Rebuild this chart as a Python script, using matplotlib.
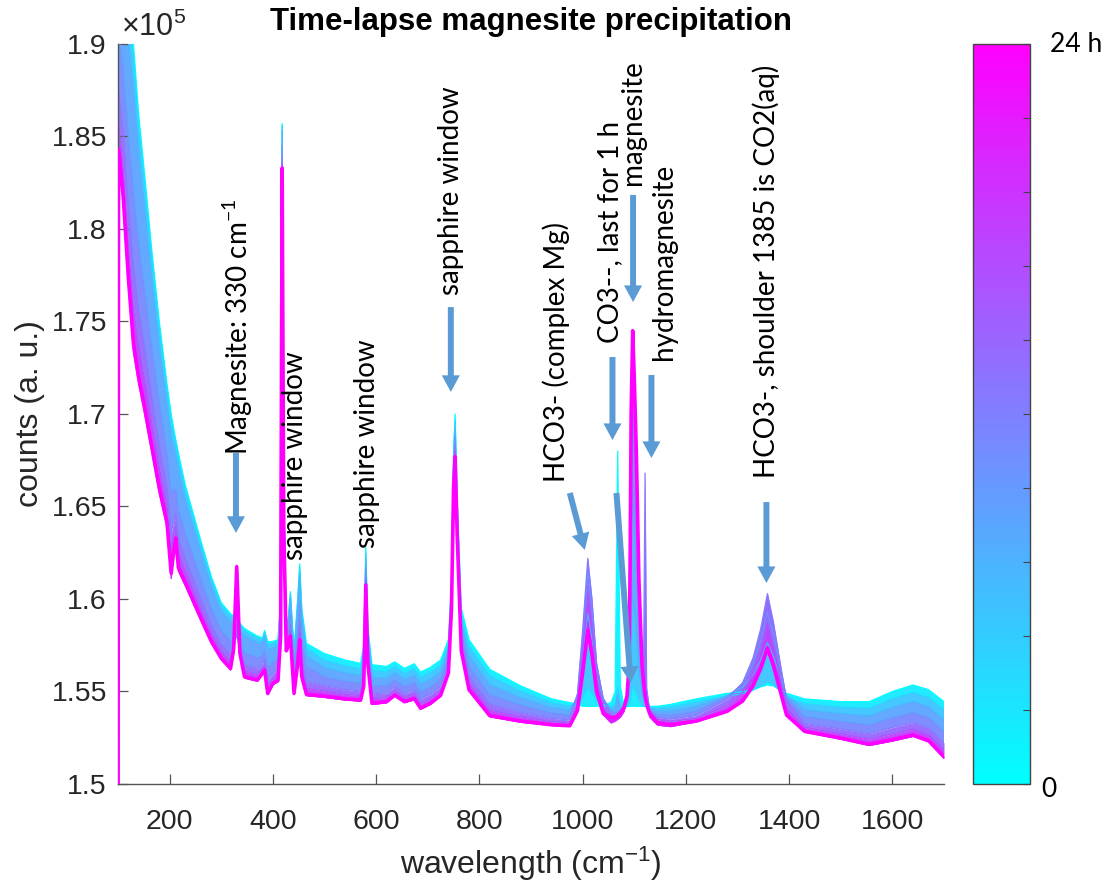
import numpy as np
import matplotlib
matplotlib.use("Agg")
import matplotlib.pyplot as plt
from matplotlib.ticker import FuncFormatter
from matplotlib.cm import ScalarMappable
from matplotlib.colors import Normalize

# ---------------- data (counts in units of 1e5) ----------------
wavenumber = [100, 101, 110, 120, 130, 140, 150, 165, 180, 195,
              203, 208, 212, 217, 230, 260, 281, 300, 318, 324,
              330, 336, 345, 370, 380, 384, 390, 400, 410, 415,
              418, 421, 426, 430, 434, 441, 448, 452, 456, 465,
              500, 540, 570, 576, 580, 584, 592, 620, 636, 655,
              674, 686, 705, 725, 740, 746, 750, 753, 757, 765,
              780, 820, 880, 940, 975, 990, 1000, 1010, 1018, 1027,
              1040, 1055, 1063, 1068, 1073, 1080, 1086, 1090, 1092, 1094,
              1097, 1100, 1104, 1109, 1115, 1118, 1121, 1124, 1130, 1145,
              1170, 1220, 1280, 1310, 1330, 1345, 1358, 1370, 1382, 1395,
              1430, 1500, 1555, 1600, 1640, 1670, 1700]

hours = [0, 4, 7, 10, 12.5, 16, 20, 24]

counts_00h = [1.40, 1.970, 1.950, 1.925, 1.900, 1.862, 1.834, 1.790, 1.750, 1.716,
              1.700, 1.692, 1.686, 1.679, 1.662, 1.632, 1.612, 1.598, 1.592, 1.591,
              1.5885, 1.587, 1.584, 1.580, 1.579, 1.583, 1.577, 1.577, 1.578, 1.600,
              1.857, 1.660, 1.585, 1.590, 1.604, 1.572, 1.600, 1.619, 1.595, 1.576,
              1.5705, 1.567, 1.5652, 1.575, 1.628, 1.585, 1.5645, 1.5635, 1.566, 1.5625,
              1.565, 1.5605, 1.563, 1.567, 1.578, 1.610, 1.680, 1.700, 1.655, 1.595,
              1.578, 1.562, 1.553, 1.546, 1.544, 1.543, 1.542, 1.542, 1.542, 1.542,
              1.5425, 1.544, 1.550, 1.680, 1.553, 1.542, 1.542, 1.542, 1.542, 1.542,
              1.542, 1.542, 1.542, 1.542, 1.542, 1.542, 1.542, 1.542, 1.542, 1.542,
              1.543, 1.546, 1.549, 1.550, 1.551, 1.5525, 1.5535, 1.553, 1.551, 1.549,
              1.546, 1.5445, 1.5445, 1.550, 1.5535, 1.551, 1.5445]

counts_04h = [1.40, 1.9637, 1.9434, 1.9175, 1.8919, 1.8549, 1.8276, 1.7847, 1.7455, 1.7123,
              1.6957, 1.6887, 1.6834, 1.6759, 1.6594, 1.6299, 1.6103, 1.5965, 1.5905, 1.5895,
              1.5871, 1.5857, 1.5827, 1.5788, 1.578, 1.5819, 1.5756, 1.5759, 1.5769, 1.599,
              1.8558, 1.659, 1.5844, 1.5893, 1.6028, 1.5709, 1.5983, 1.617, 1.5932, 1.5733,
              1.567, 1.5638, 1.5622, 1.5717, 1.6249, 1.582, 1.5614, 1.5606, 1.5633, 1.5598,
              1.5622, 1.5576, 1.5601, 1.5642, 1.5753, 1.6078, 1.677, 1.6966, 1.652, 1.5916,
              1.574, 1.5583, 1.5502, 1.5439, 1.5421, 1.5427, 1.547, 1.552, 1.5493, 1.5449,
              1.5423, 1.5413, 1.5431, 1.552, 1.5432, 1.5414, 1.5417, 1.5427, 1.5458, 1.5505,
              1.553, 1.5516, 1.5493, 1.5453, 1.5427, 1.5421, 1.5417, 1.5415, 1.5412, 1.541,
              1.5415, 1.5442, 1.5474, 1.5489, 1.5507, 1.553, 1.5552, 1.5536, 1.5504, 1.547,
              1.5434, 1.5415, 1.541, 1.5461, 1.5494, 1.5469, 1.540]

counts_07h = [1.40, 1.951, 1.930, 1.9023, 1.8757, 1.8407, 1.8148, 1.774, 1.7365, 1.7048,
              1.6871, 1.6821, 1.678, 1.6697, 1.654, 1.6257, 1.6068, 1.5935, 1.5876, 1.5866,
              1.5844, 1.583, 1.5801, 1.5764, 1.5762, 1.5798, 1.5728, 1.5736, 1.5747, 1.597,
              1.8534, 1.657, 1.583, 1.5878, 1.6004, 1.5686, 1.5948, 1.6128, 1.5894, 1.5694,
              1.5629, 1.5601, 1.5587, 1.5677, 1.6213, 1.5784, 1.5576, 1.5572, 1.5601, 1.5566,
              1.5588, 1.5541, 1.5566, 1.5607, 1.5721, 1.605, 1.6734, 1.6924, 1.6484, 1.5874,
              1.5691, 1.5538, 1.5467, 1.5414, 1.5399, 1.547, 1.5682, 1.592, 1.5788, 1.5576,
              1.5454, 1.5406, 1.5403, 1.5486, 1.5409, 1.5418, 1.5436, 1.5484, 1.564, 1.5874,
              1.600, 1.5928, 1.5814, 1.5616, 1.5484, 1.5457, 1.5436, 1.5424, 1.5409, 1.5395,
              1.5395, 1.542, 1.5478, 1.5524, 1.559, 1.5671, 1.5764, 1.5687, 1.5583, 1.5476,
              1.5402, 1.538, 1.5369, 1.5414, 1.5446, 1.5419, 1.5347]

counts_10h = [1.40, 1.9065, 1.884, 1.8495, 1.819, 1.791, 1.770, 1.7365, 1.705, 1.6785,
              1.657, 1.659, 1.6595, 1.648, 1.6355, 1.611, 1.5945, 1.583, 1.5772, 1.5772,
              1.5797, 1.5745, 1.571, 1.5681, 1.5695, 1.5723, 1.563, 1.5657, 1.567, 1.590,
              1.845, 1.650, 1.5785, 1.5825, 1.592, 1.5605, 1.5825, 1.5985, 1.5765, 1.5636,
              1.5578, 1.5554, 1.5543, 1.5629, 1.6168, 1.574, 1.553, 1.553, 1.5561, 1.5526,
              1.5547, 1.5498, 1.5523, 1.5566, 1.5681, 1.6018, 1.669, 1.6874, 1.644, 1.5824,
              1.5632, 1.5483, 1.5426, 1.5383, 1.5371, 1.5487, 1.5799, 1.615, 1.5955, 1.5643,
              1.5464, 1.5393, 1.5386, 1.5392, 1.5398, 1.5416, 1.5452, 1.5548, 1.586, 1.6328,
              1.658, 1.6436, 1.6208, 1.5812, 1.5548, 1.5494, 1.5602, 1.5428, 1.5398, 1.5375,
              1.537, 1.5394, 1.5471, 1.5543, 1.5649, 1.5778, 1.593, 1.5802, 1.5638, 1.5468,
              1.5364, 1.5337, 1.5318, 1.5357, 1.5386, 1.5359, 1.5282]

counts_12h30 = [1.40, 1.875, 1.851, 1.812, 1.779, 1.756, 1.738, 1.710, 1.6825, 1.660,
                1.6355, 1.6425, 1.646, 1.6325, 1.6222, 1.6005, 1.5857, 1.5755, 1.5699, 1.5719,
                1.5829, 1.5698, 1.5645, 1.5621, 1.5648, 1.567, 1.556, 1.560, 1.5615, 1.585,
                1.839, 1.645, 1.5753, 1.5788, 1.586, 1.5548, 1.5738, 1.5882, 1.5672, 1.5554,
                1.5532, 1.5512, 1.5503, 1.5585, 1.6127, 1.570, 1.5488, 1.5492, 1.5525, 1.549,
                1.5509, 1.5459, 1.5485, 1.5528, 1.5645, 1.5988, 1.665, 1.6828, 1.640, 1.5778,
                1.5578, 1.5433, 1.5388, 1.5355, 1.5346, 1.548, 1.5829, 1.622, 1.6003, 1.5655,
                1.5454, 1.5376, 1.5379, 1.5387, 1.5396, 1.5421, 1.5472, 1.5608, 1.605, 1.6713,
                1.707, 1.6866, 1.6543, 1.5982, 1.5608, 1.5612, 1.668, 1.5518, 1.5396, 1.536,
                1.535, 1.537, 1.5458, 1.5548, 1.568, 1.5839, 1.6029, 1.5868, 1.5665, 1.5454,
                1.5329, 1.5297, 1.5272, 1.5305, 1.5332, 1.5304, 1.5222]

counts_16h = [1.40, 1.858, 1.834, 1.792, 1.757, 1.737, 1.721, 1.696, 1.671, 1.650,
              1.624, 1.634, 1.639, 1.624, 1.6154, 1.595, 1.5812, 1.5716, 1.566, 1.572,
              1.5993, 1.5702, 1.5611, 1.5591, 1.5623, 1.5642, 1.5524, 1.5571, 1.5586, 1.5824,
              1.8359, 1.6424, 1.5736, 1.5768, 1.5829, 1.5518, 1.5692, 1.5829, 1.5624, 1.5518,
              1.5503, 1.5485, 1.5478, 1.5556, 1.610, 1.5674, 1.5461, 1.5468, 1.5502, 1.5467,
              1.5485, 1.5433, 1.5459, 1.5503, 1.5622, 1.5968, 1.6624, 1.6798, 1.6374, 1.5748,
              1.5542, 1.540, 1.5363, 1.5337, 1.533, 1.5435, 1.5715, 1.603, 1.5855, 1.5575,
              1.5414, 1.5351, 1.537, 1.5379, 1.5389, 1.5417, 1.5474, 1.5626, 1.612, 1.6861,
              1.726, 1.7032, 1.6671, 1.6044, 1.5626, 1.5541, 1.5594, 1.5436, 1.5389, 1.5348,
              1.5338, 1.5354, 1.5423, 1.5495, 1.5599, 1.5722, 1.5869, 1.5742, 1.5581, 1.541,
              1.5306, 1.5272, 1.5243, 1.5271, 1.5297, 1.5268, 1.5184]

counts_20h = [1.40, 1.839, 1.814, 1.770, 1.733, 1.716, 1.702, 1.680, 1.657, 1.639,
              1.611, 1.624, 1.631, 1.615, 1.6074, 1.5887, 1.5759, 1.5671, 1.5616, 1.5706,
              1.6102, 1.5692, 1.5572, 1.5555, 1.5594, 1.561, 1.5482, 1.5537, 1.5553, 1.5794,
              1.8323, 1.6394, 1.5716, 1.5746, 1.5793, 1.5483, 1.564, 1.5768, 1.5569, 1.5477,
              1.5468, 1.5454, 1.5448, 1.5523, 1.607, 1.5644, 1.543, 1.5439, 1.5475, 1.544,
              1.5456, 1.5404, 1.543, 1.5474, 1.5595, 1.5945, 1.6594, 1.6763, 1.6344, 1.5713,
              1.5502, 1.5363, 1.5334, 1.5316, 1.5311, 1.5391, 1.5619, 1.5875, 1.5733, 1.5505,
              1.5373, 1.533, 1.534, 1.535, 1.5361, 1.5392, 1.5453, 1.5617, 1.615, 1.695,
              1.738, 1.7134, 1.6745, 1.6068, 1.5617, 1.5525, 1.5453, 1.5412, 1.5361, 1.5318,
              1.531, 1.5336, 1.539, 1.5445, 1.5525, 1.5629, 1.573, 1.5643, 1.5512, 1.5371,
              1.528, 1.5242, 1.5208, 1.5232, 1.5257, 1.5227, 1.5139]

counts_24h = [1.40, 1.843, 1.818, 1.774, 1.738, 1.720, 1.706, 1.683, 1.660, 1.641,
              1.614, 1.626, 1.633, 1.617, 1.609, 1.590, 1.577, 1.568, 1.5625, 1.573,
              1.6175, 1.571, 1.558, 1.5562, 1.560, 1.5616, 1.549, 1.5544, 1.556, 1.580,
              1.833, 1.640, 1.572, 1.575, 1.580, 1.549, 1.565, 1.578, 1.558, 1.5485,
              1.5475, 1.546, 1.5454, 1.553, 1.6076, 1.565, 1.5436, 1.5445, 1.548, 1.5445,
              1.5462, 1.541, 1.5436, 1.548, 1.560, 1.595, 1.660, 1.677, 1.635, 1.572,
              1.551, 1.537, 1.534, 1.532, 1.5315, 1.5397, 1.560, 1.583, 1.5703, 1.5499,
              1.5381, 1.536, 1.536, 1.5371, 1.5382, 1.5413, 1.5476, 1.5644, 1.619, 1.7009,
              1.745, 1.7198, 1.6799, 1.6106, 1.5644, 1.555, 1.5476, 1.5434, 1.5382, 1.533,
              1.532, 1.534, 1.5393, 1.5449, 1.553, 1.5624, 1.5735, 1.5636, 1.551, 1.5373,
              1.5285, 1.5248, 1.5215, 1.524, 1.5265, 1.5235, 1.5148]

x_ticks = [200, 400, 600, 800, 1000, 1200, 1400, 1600]
y_ticks = [1.5, 1.55, 1.6, 1.65, 1.7, 1.75, 1.8, 1.85, 1.9]
colorbar_ticks = [0, 2.4, 4.8, 7.2, 9.6, 12, 14.4, 16.8, 19.2, 21.6, 24]
colorbar_end_labels = ["0", "24 h"]

# ---------------- style ----------------
SCALE = 1e5
W, H = 1107, 885
ARROW_C = "#5B9BD5"
TICK_C = "#262626"
ANNOT_FONT = ["Lato", "DejaVu Sans"]

plt.rcParams["font.family"] = ["Liberation Sans", "DejaVu Sans"]
plt.rcParams["mathtext.fontset"] = "custom"
plt.rcParams["mathtext.rm"] = "Liberation Sans"
plt.rcParams["mathtext.it"] = "Liberation Sans:italic"
plt.rcParams["mathtext.bf"] = "Liberation Sans:bold"
plt.rcParams["mathtext.default"] = "regular"

fig = plt.figure(figsize=(W / 100, H / 100), dpi=100)
ax = fig.add_axes([118 / W, 101 / H, 826 / W, 740 / H])

cmap = plt.get_cmap("cool")
norm = Normalize(0, 24)

spectra = [counts_00h, counts_04h, counts_07h, counts_10h,
           counts_12h30, counts_16h, counts_20h, counts_24h]
x = np.array(wavenumber, dtype=float)
ys = [np.array(s) * SCALE for s in spectra]

for i in range(len(ys) - 1):
    mid = 0.5 * (hours[i] + hours[i + 1])
    ax.fill_between(x, ys[i], ys[i + 1], color=cmap(norm(mid)),
                    lw=0, alpha=0.95, zorder=1)
for y, h in zip(ys[:-1], hours[:-1]):
    ax.plot(x, y, color=cmap(norm(h)), lw=0.9, zorder=2)
ax.plot(x, ys[-1], color=cmap(norm(hours[-1])), lw=2.6, zorder=3,
        solid_joinstyle="round")

ax.set_xlim(100, 1700)
ax.set_ylim(1.5 * SCALE, 1.9 * SCALE)
ax.set_xticks(x_ticks)
ax.set_yticks([v * SCALE for v in y_ticks])
ax.yaxis.set_major_formatter(FuncFormatter(lambda v, p: f"{v / SCALE:g}"))
for s in ("top", "right"):
    ax.spines[s].set_visible(False)
for s in ("left", "bottom"):
    ax.spines[s].set_color("#555555")
    ax.spines[s].set_linewidth(1.0)
ax.tick_params(axis="both", direction="in", length=7, width=0.9,
               color="#555555", labelcolor=TICK_C, labelsize=20.5)
ax.tick_params(axis="x", pad=18)
ax.tick_params(axis="y", pad=8)

ax.set_xlabel("wavelength (cm$^{-1}$)", fontsize=23, color=TICK_C)
ax.set_ylabel("counts (a. u.)", fontsize=23, color=TICK_C)
ax.xaxis.set_label_coords(0.5, -0.082)
ax.yaxis.set_label_coords(-0.088, 0.5)

fig.text(531 / W, 1 - 22 / H, "Time-lapse magnesite precipitation",
         ha="center", va="center", fontsize=22.5, fontweight="bold")
fig.text(121 / W, 1 - 27 / H, r"$\times10^{5}$", ha="left", va="center",
         fontsize=22, color=TICK_C)

# ---------------- annotations ----------------
labels = [
    ("Magnesite: 330 cm$^{-1}$", 332, 1.6778),
    ("sapphire window", 443, 1.6211),
    ("sapphire window", 583, 1.6276),
    ("sapphire window", 745, 1.7643),
    ("HCO3- (complex Mg)", 949, 1.6634),
    ("CO3--, last for 1 h", 1053, 1.7384),
    ("magnesite", 1098, 1.8238),
    ("hydromagnesite", 1157, 1.7292),
    ("HCO3-, shoulder 1385 is CO2(aq)", 1355, 1.6654),
]
for txt, lx, ly in labels:
    ax.text(lx, ly * SCALE, txt, rotation=90, ha="center", va="bottom",
            fontsize=20, family=ANNOT_FONT, color="black", zorder=6)

arrows = [
    ((328.5, 1.6789), (328.5, 1.6357)),
    ((744.7, 1.7578), (744.7, 1.7119)),
    ((975.1, 1.6573), (1004.2, 1.6265)),
    ((1057.8, 1.7308), (1057.8, 1.6859)),
    ((1065.5, 1.6573), (1093.2, 1.5546)),
    ((1097.7, 1.8184), (1097.7, 1.7605)),
    ((1133.3, 1.7211), (1133.3, 1.6762)),
    ((1356.0, 1.6524), (1356.0, 1.6086)),
]
for (x0, y0), (x1, y1) in arrows:
    ax.annotate("", xy=(x1, y1 * SCALE), xytext=(x0, y0 * SCALE),
                arrowprops=dict(arrowstyle="simple,head_width=13,head_length=12,tail_width=4.3",
                                mutation_scale=1, color=ARROW_C, lw=0,
                                shrinkA=0, shrinkB=0),
                zorder=5)

# ---------------- colorbar ----------------
cax = fig.add_axes([973 / W, 101 / H, 57 / W, 740 / H])
sm = ScalarMappable(norm=norm, cmap=cmap)
cb = fig.colorbar(sm, cax=cax)
cb.set_ticks(colorbar_ticks)
cb.set_ticklabels([""] * len(colorbar_ticks))
cax.tick_params(direction="in", length=5, width=0.8, color="#444444",
                right=True, left=False)
cb.outline.set_edgecolor("#444444")
cb.outline.set_linewidth(1.0)
cax.text(1.2, -0.008, colorbar_end_labels[0], transform=cax.transAxes,
         ha="left", va="center", fontsize=19, family=ANNOT_FONT)
cax.text(1.35, 1.0, colorbar_end_labels[1], transform=cax.transAxes,
         ha="left", va="center", fontsize=19, family=ANNOT_FONT)

fig.savefig("out.png", dpi=100)
